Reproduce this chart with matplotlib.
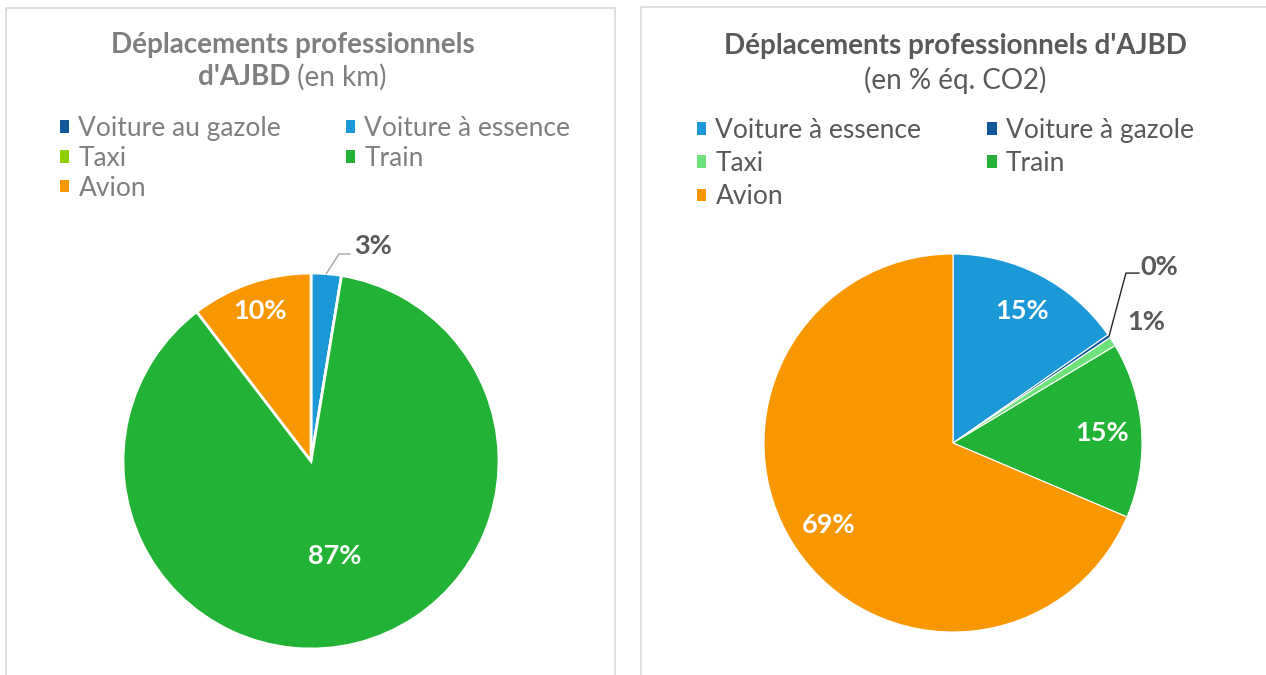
import matplotlib
matplotlib.use("Agg")
import matplotlib.pyplot as plt
from matplotlib.patches import Rectangle
import numpy as np

plt.rcParams['font.family'] = ['Lato', 'DejaVu Sans']

# ---------- data ----------
left_categories = ["Voiture au gazole", "Voiture à essence", "Taxi", "Train", "Avion"]
left_values = [0.0, 2.6, 0.0, 87.0, 10.4]
left_colors = ["#11579a", "#1b98d8", "#8fd000", "#22b336", "#f99700"]

right_categories = ["Voiture à essence", "Voiture à gazole", "Taxi", "Train", "Avion"]
right_values = [15.3, 0.3, 0.8, 15.0, 68.6]
right_colors = ["#1b98d8", "#11579a", "#6de27a", "#22b336", "#f99700"]

left_title_bold1 = "Déplacements professionnels"
left_title_bold2 = "d'AJBD"
left_title_norm2 = " (en km)"
right_title_bold = "Déplacements professionnels d'AJBD"
right_title_norm = "(en % éq. CO2)"

W, H = 1266, 675
fig = plt.figure(figsize=(W / 100, H / 100), dpi=100)
fig.patch.set_facecolor("white")

def fx(px):
    return px / W

def fy(py):
    return 1 - py / H

# panel borders
for x0, x1, y0 in [(6, 615, 8), (641, 1275, 7)]:
    fig.patches.append(Rectangle((fx(x0), fy(H + 10)), fx(x1 - x0), (H + 10 - y0) / H,
                                 transform=fig.transFigure, fill=False,
                                 edgecolor="#d9d9d9", linewidth=1.2))

def make_axes(cx, cy, r):
    ax = fig.add_axes([fx(cx - r), fy(cy + r), fx(2 * r), 2 * r / H])
    ax.axis("off")
    return ax

def fix_limits(ax):
    ax.set_xlim(-1, 1)
    ax.set_ylim(-1, 1)
    ax.set_aspect("equal")

TITLE_FS = 20
LEG_FS = 19
LAB_FS = 19.5

# ---------- left pie ----------
axL = make_axes(311, 461, 188)
wL, tL, aL = axL.pie(left_values, colors=left_colors, startangle=90, counterclock=False,
                     radius=1, autopct="%.0f%%",
                     wedgeprops=dict(edgecolor="white", linewidth=2.0),
                     textprops=dict(color="white", fontsize=LAB_FS, fontweight="bold"))
fix_limits(axL)
for t in tL:
    t.set_text("")
left_label_dist = [None, 0.0, None, 0.52, 0.84]
for w, a, d in zip(wL, aL, left_label_dist):
    if d is None:
        a.set_text("")
        continue
    ang = np.deg2rad((w.theta1 + w.theta2) / 2)
    a.set_position((d * np.cos(ang), d * np.sin(ang)))
# outside label for essence
w = wL[1]
ang = np.deg2rad((w.theta1 + w.theta2) / 2)
axL.plot([np.cos(ang), 0.149, 0.207], [np.sin(ang), 1.101, 1.101], color="#a6a6a6",
         linewidth=1.0, clip_on=False)
aL[1].set_position((0.23, 1.144))
aL[1].set_ha("left")
aL[1].set_va("center")
aL[1].set_color("#595959")

# left title
fig.text(fx(293), fy(45), left_title_bold1, ha="center", va="center", fontsize=TITLE_FS,
         fontweight="bold", color="#7f7f7f")
fig.text(fx(290), fy(77), left_title_bold2, ha="right", va="center", fontsize=TITLE_FS,
         fontweight="bold", color="#7f7f7f")
fig.text(fx(290), fy(77), left_title_norm2, ha="left", va="center", fontsize=TITLE_FS,
         color="#7f7f7f")

# left legend (row-major order)
orderL = [0, 2, 4, 1, 3]
legL = fig.legend([wL[i] for i in orderL], [left_categories[i] for i in orderL],
                  ncol=2, loc="upper left", bbox_to_anchor=(fx(60), fy(116)),
                  frameon=False, fontsize=LEG_FS, handlelength=0.35, handleheight=0.35,
                  handletextpad=0.35, columnspacing=2.45, labelspacing=0.18,
                  borderaxespad=0, borderpad=0)
for t in legL.get_texts():
    t.set_color("#7f7f7f")
for h in legL.legend_handles:
    h.set_edgecolor("none")

# ---------- right pie ----------
axR = make_axes(953, 443, 189)
wR, tR, aR = axR.pie(right_values, colors=right_colors, startangle=90, counterclock=False,
                     radius=1, autopct="%.0f%%", pctdistance=0.79,
                     wedgeprops=dict(edgecolor="white", linewidth=0.8),
                     textprops=dict(color="white", fontsize=LAB_FS, fontweight="bold"))
fix_limits(axR)
for t in tR:
    t.set_text("")
# gazole outside label with leader
w = wR[1]
ang = np.deg2rad((w.theta1 + w.theta2) / 2)
axR.plot([np.cos(ang), 0.915, 0.984], [np.sin(ang), 0.899, 0.899], color="#262626",
         linewidth=1.0, clip_on=False)
aR[1].set_position((0.99, 0.931))
aR[1].set_ha("left")
aR[1].set_va("center")
aR[1].set_color("#595959")
# taxi outside label
aR[2].set_position((0.92, 0.640))
aR[2].set_ha("left")
aR[2].set_va("center")
aR[2].set_color("#595959")

fig.text(fx(955), fy(46), right_title_bold, ha="center", va="center", fontsize=TITLE_FS,
         fontweight="bold", color="#595959")
fig.text(fx(955), fy(80), right_title_norm, ha="center", va="center", fontsize=TITLE_FS,
         color="#595959")

orderR = [0, 2, 4, 1, 3]
legR = fig.legend([wR[i] for i in orderR], [right_categories[i] for i in orderR],
                  ncol=2, loc="upper left", bbox_to_anchor=(fx(697), fy(118)),
                  frameon=False, fontsize=LEG_FS, handlelength=0.35, handleheight=0.35,
                  handletextpad=0.35, columnspacing=2.5, labelspacing=0.31,
                  borderaxespad=0, borderpad=0)
for t in legR.get_texts():
    t.set_color("#595959")
for h in legR.legend_handles:
    h.set_edgecolor("none")

fig.savefig("out.png", dpi=100, facecolor="white")
